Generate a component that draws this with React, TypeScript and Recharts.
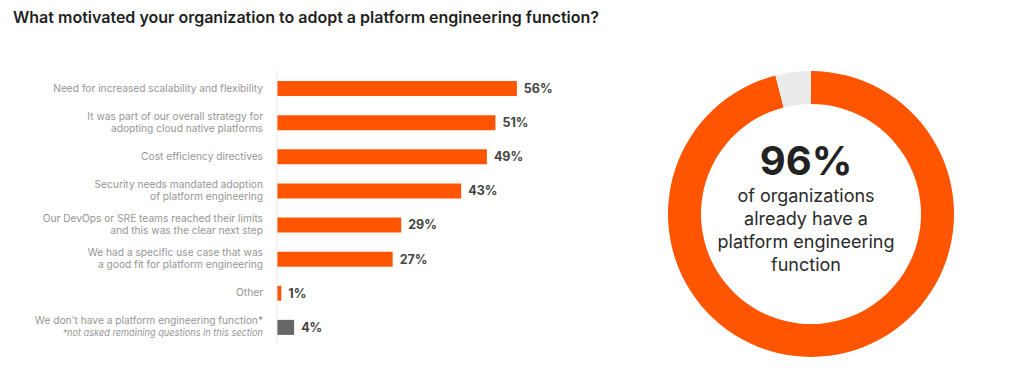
import { BarChart, Bar, XAxis, YAxis, Cell, LabelList, PieChart, Pie } from 'recharts'

const categories = [
  'Need for increased scalability and flexibility',
  'It was part of our overall strategy for\nadopting cloud native platforms',
  'Cost efficiency directives',
  'Security needs mandated adoption\nof platform engineering',
  'Our DevOps or SRE teams reached their limits\nand this was the clear next step',
  'We had a specific use case that was\na good fit for platform engineering',
  'Other',
  "We don't have a platform engineering function*",
]
const values = [56, 51, 49, 43, 29, 27, 1, 4]
const footnote = '*not asked remaining questions in this section'

const donutNames = ['Have a platform engineering function', 'Do not have one']
const donutValues = [96, 4]

const ORANGE = '#ff5400'
const FONT = 'Inter, "Noto Sans", sans-serif'

const barData = categories.map((label, i) => ({ label, value: values[i] }))
const donutData = donutNames.map((name, i) => ({ name, value: donutValues[i] }))

const CategoryTick = (props: any) => {
  const { x, y, payload, index } = props
  const lines: string[] = String(payload.value).split('\n')
  const isLast = index === categories.length - 1
  const rows = isLast ? lines.length + 1 : lines.length
  const start = y - ((rows - 1) * 12) / 2
  return (
    <g>
      {lines.map((line, i) => (
        <text key={i} x={x - 6} y={start + i * 12} dy={3.5} textAnchor="end"
          fontSize={10.2} fill="#969696" fontFamily={FONT}>
          {line}
        </text>
      ))}
      {isLast && (
        <text x={x - 6} y={start + lines.length * 12} dy={3.5} textAnchor="end"
          fontSize={9.2} fontStyle="italic" fill="#969696" fontFamily={FONT}>
          {footnote}
        </text>
      )}
    </g>
  )
}

export default function App() {
  return (
    <div style={{ position: 'relative', width: 1024, height: 368, margin: -8, background: '#fff', fontFamily: FONT, overflow: 'hidden' }}>
      <div style={{ position: 'absolute', left: 13, top: 7, fontSize: 16, fontWeight: 600, color: '#1f1f1f' }}>
        What motivated your organization to adopt a platform engineering function?
      </div>

      <div style={{ position: 'absolute', left: 0, top: 0 }}>
        <BarChart width={600} height={368} data={barData} layout="vertical"
          margin={{ top: 71, right: 66, left: 0, bottom: 24 }}>
          <XAxis type="number" domain={[0, 60]} hide />
          <YAxis type="category" dataKey="label" width={277} tickLine={false}
            axisLine={{ stroke: '#e6e6e6' }} tick={<CategoryTick />} interval={0} />
          <Bar dataKey="value" barSize={15} isAnimationActive={false}>
            {barData.map((d, i) => (
              <Cell key={d.label} fill={i === barData.length - 1 ? '#666666' : ORANGE} />
            ))}
            <LabelList dataKey="value" position="right" offset={7}
              formatter={(v: any) => `${v}%`}
              style={{ fontSize: 12.5, fontWeight: 700, fill: '#444', fontFamily: FONT }} />
          </Bar>
        </BarChart>
      </div>

      <div style={{ position: 'absolute', left: 656, top: 59 }}>
        <PieChart width={300} height={300}>
          <Pie data={donutData} dataKey="value" nameKey="name" cx={150} cy={150}
            innerRadius={110} outerRadius={143} startAngle={90} endAngle={-270}
            stroke="none" isAnimationActive={false}>
            <Cell fill={ORANGE} />
            <Cell fill="#ebebeb" />
          </Pie>
        </PieChart>
      </div>

      <div style={{ position: 'absolute', left: 656, top: 138, width: 300, textAlign: 'center', color: '#222' }}>
        <div style={{ fontSize: 40, fontWeight: 700, lineHeight: '46px' }}>96%</div>
        <div style={{ fontSize: 18, lineHeight: '23px', color: '#2a2a2a' }}>
          of organizations<br />already have a<br />platform engineering<br />function
        </div>
      </div>
    </div>
  )
}
